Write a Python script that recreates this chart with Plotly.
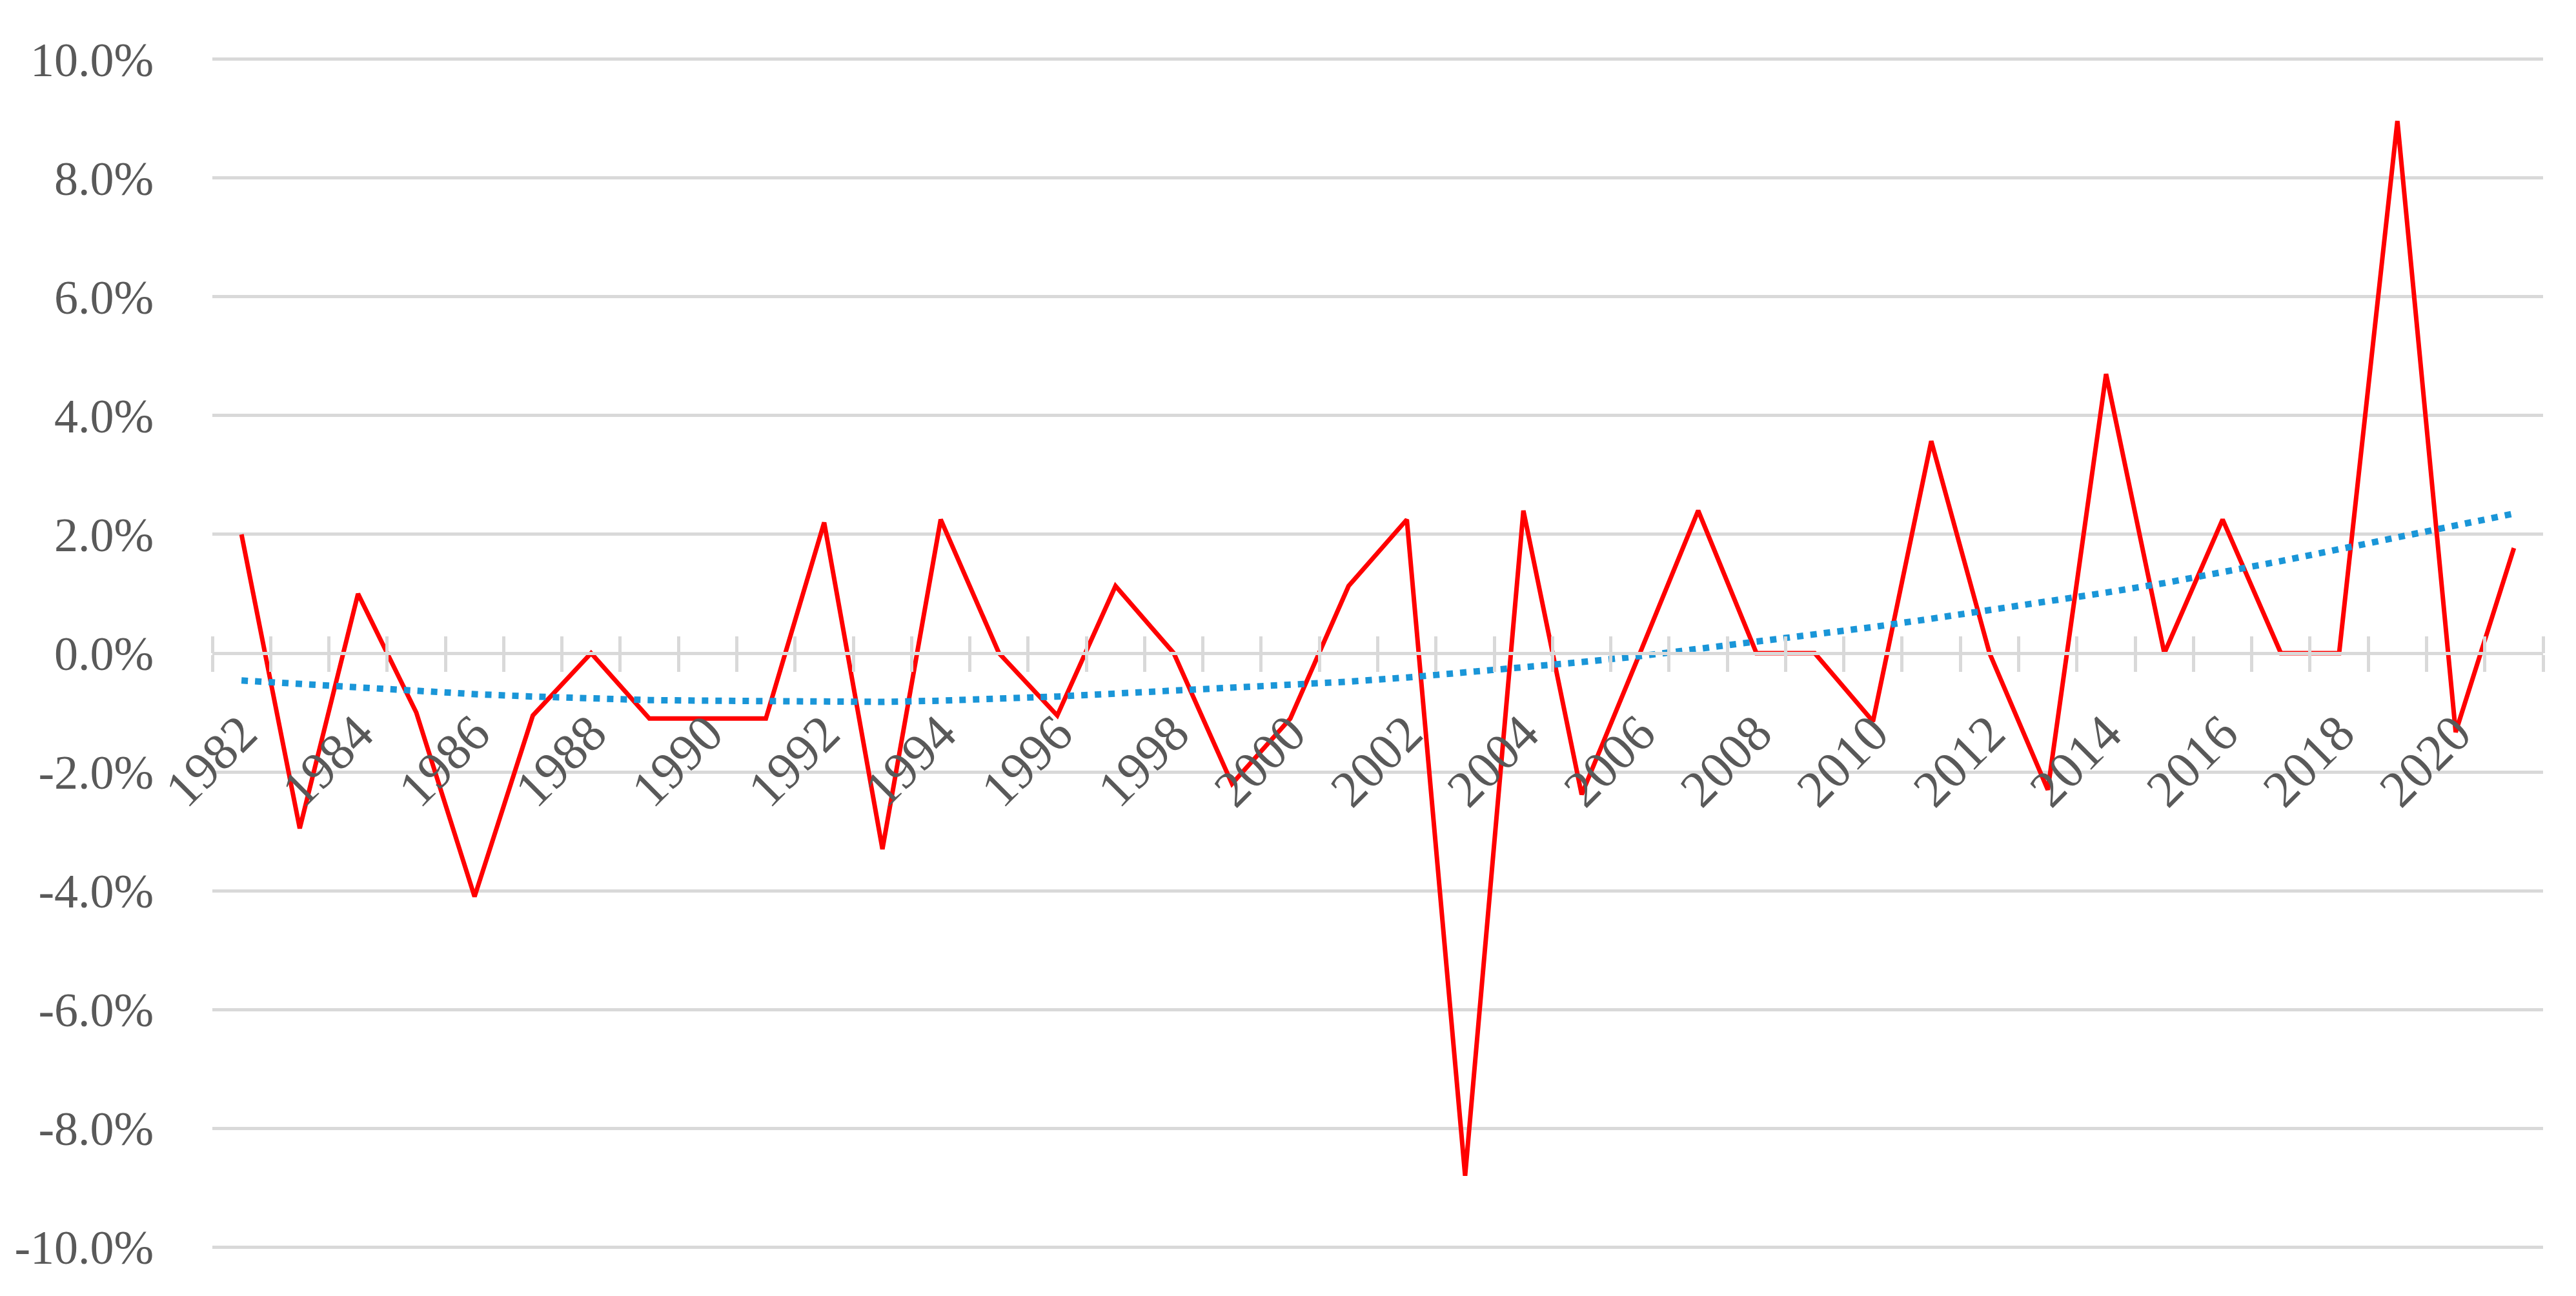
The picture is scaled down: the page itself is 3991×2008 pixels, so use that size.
import plotly.graph_objects as go

years = list(range(1982, 2022))

# annual change, % (red line)
change = [2.0, -2.95, 1.0, -1.0, -4.1, -1.05, 0.0, -1.1, -1.1, -1.1,
          2.2, -3.3, 2.25, 0.0, -1.05, 1.13, 0.0, -2.2, -1.1, 1.13,
          2.25, -8.8, 2.4, -2.38, 0.0, 2.4, 0.0, 0.0, -1.15, 3.57,
          0.0, -2.3, 4.7, 0.0, 2.25, 0.0, 0.0, 8.96, -1.33, 1.77]

# trend line, % (blue dotted)
trend = [-0.46, -0.52, -0.58, -0.64, -0.69, -0.73, -0.77, -0.79, -0.80, -0.81,
         -0.82, -0.82, -0.80, -0.77, -0.73, -0.68, -0.63, -0.59, -0.55, -0.48,
         -0.41, -0.33, -0.24, -0.15, -0.05, 0.07, 0.19, 0.31, 0.44, 0.58,
         0.72, 0.87, 1.02, 1.18, 1.36, 1.55, 1.75, 1.95, 2.14, 2.35]

label_years = years[::2]
y_ticks = [-10, -8, -6, -4, -2, 0, 2, 4, 6, 8, 10]

grid = '#d9d9d9'
txt = '#595959'
font = 'Liberation Serif'

fig = go.Figure()

fig.add_trace(go.Scatter(x=years, y=trend, mode='lines',
                         line=dict(color='#1a96d8', width=10, dash='10px,11px'),
                         xaxis='x2', showlegend=False))

fig.add_trace(go.Scatter(x=years, y=change, mode='lines',
                         line=dict(color='#ff0000', width=7),
                         showlegend=False))

xr = [years[0] - 0.5, years[-1] + 0.5]

fig.update_layout(
    width=3991, height=2008,
    margin=dict(l=321, r=59, t=81, b=81),
    plot_bgcolor='white', paper_bgcolor='white',
    font=dict(family=font, color=txt, size=74),
    xaxis=dict(range=xr, anchor='free', position=0.5,
               tickmode='array', tickvals=label_years,
               ticktext=[str(y) for y in label_years],
               tickangle=-45, ticks='', showgrid=False, zeroline=False,
               showline=True, linecolor=grid, linewidth=5,
               ticklabelstandoff=42,
               tickfont=dict(family=font, color=txt, size=80),
               minor=dict(tickmode='linear', tick0=xr[0], dtick=1,
                          ticks='outside', ticklen=26, tickwidth=5,
                          tickcolor=grid, showgrid=False)),
    xaxis2=dict(range=xr, overlaying='x', anchor='free', position=0.5,
                showticklabels=False, ticks='', showgrid=False,
                zeroline=False, showline=False,
                minor=dict(tickmode='linear', tick0=xr[0], dtick=1,
                           ticks='inside', ticklen=26, tickwidth=5,
                           tickcolor=grid, showgrid=False)),
    yaxis=dict(range=[-10.03, 10.03], tickmode='array', tickvals=y_ticks,
               ticktext=['%.1f%%' % v for v in y_ticks],
               showgrid=True, gridcolor=grid, gridwidth=5,
               zeroline=True, zerolinecolor=grid, zerolinewidth=5,
               ticks='outside', ticklen=75, tickcolor='rgba(0,0,0,0)',
               tickfont=dict(family=font, color=txt, size=74)),
)

fig.write_html("out.html")
